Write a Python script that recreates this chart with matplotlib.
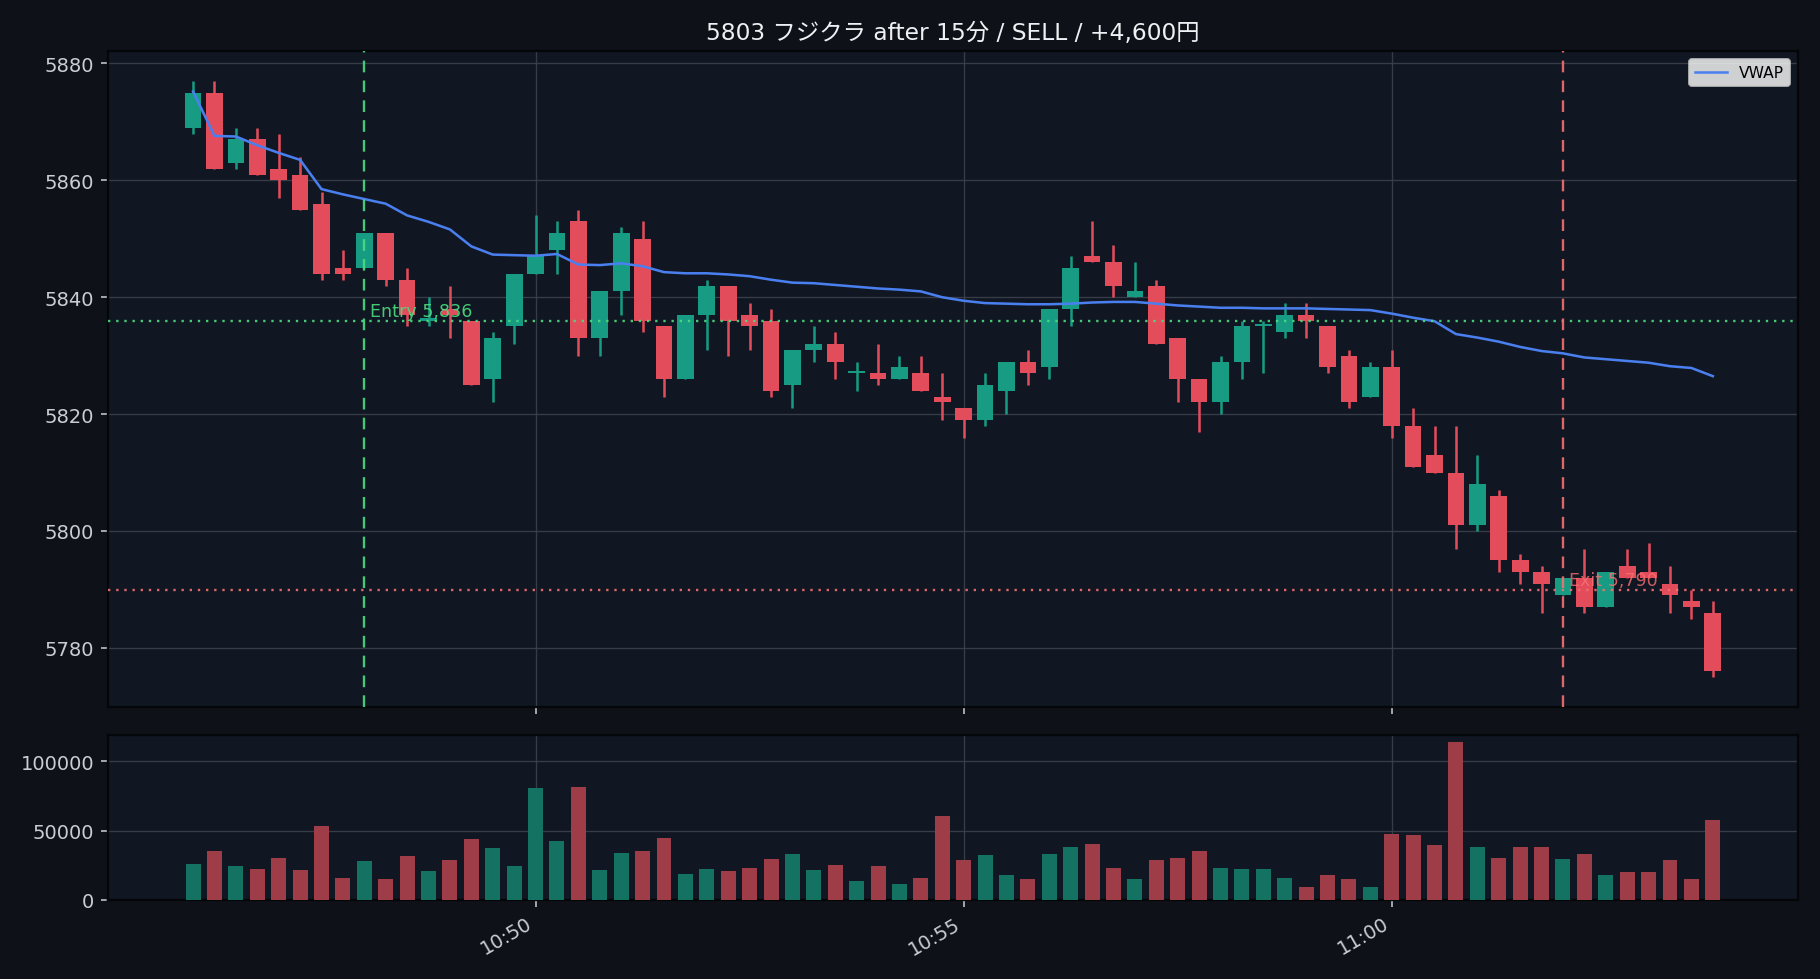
import matplotlib
matplotlib.use("Agg")
import matplotlib.pyplot as plt
import matplotlib.dates as mdates
import numpy as np
import pandas as pd

# ---------------- data ----------------
times = pd.date_range("2024-01-01 10:46:00", periods=72, freq="15s")

opens = [5869, 5875, 5863, 5867, 5862, 5861, 5856, 5845, 5845, 5851,
         5843, 5836, 5838, 5836, 5826, 5835, 5844, 5848, 5853, 5833,
         5841, 5850, 5835, 5826, 5837, 5842, 5837, 5836, 5825, 5831,
         5832, 5827, 5827, 5826, 5827, 5823, 5821, 5819, 5824, 5829,
         5828, 5838, 5847, 5846, 5840, 5842, 5833, 5826, 5822, 5829,
         5835, 5834, 5837, 5835, 5830, 5823, 5828, 5818, 5813, 5810,
         5801, 5806, 5795, 5793, 5789, 5792, 5787, 5794, 5793, 5791,
         5788, 5786]
highs = [5877, 5877, 5869, 5869, 5868, 5864, 5858, 5848, 5851, 5851,
         5845, 5840, 5842, 5836, 5834, 5844, 5854, 5853, 5855, 5841,
         5852, 5853, 5835, 5837, 5843, 5842, 5839, 5838, 5831, 5835,
         5834, 5829, 5832, 5830, 5830, 5827, 5821, 5827, 5829, 5831,
         5838, 5847, 5853, 5849, 5846, 5843, 5833, 5826, 5830, 5836,
         5836, 5839, 5839, 5835, 5831, 5829, 5831, 5821, 5818, 5818,
         5813, 5807, 5796, 5794, 5792, 5797, 5793, 5797, 5798, 5794,
         5790, 5788]
lows = [5868, 5862, 5862, 5861, 5857, 5855, 5843, 5843, 5845, 5842,
        5835, 5835, 5833, 5825, 5822, 5832, 5844, 5844, 5830, 5830,
        5837, 5834, 5823, 5826, 5831, 5830, 5831, 5823, 5821, 5829,
        5826, 5824, 5825, 5826, 5824, 5819, 5816, 5818, 5820, 5825,
        5826, 5835, 5846, 5840, 5840, 5832, 5822, 5817, 5820, 5826,
        5827, 5833, 5833, 5827, 5821, 5823, 5816, 5811, 5810, 5797,
        5800, 5793, 5791, 5786, 5789, 5786, 5787, 5792, 5792, 5786,
        5785, 5775]
closes = [5875, 5862, 5867, 5861, 5860, 5855, 5844, 5844, 5851, 5843,
          5837, 5836, 5837, 5825, 5833, 5844, 5847, 5851, 5833, 5841,
          5851, 5836, 5826, 5837, 5842, 5836, 5835, 5824, 5831, 5832,
          5829, 5827, 5826, 5828, 5824, 5822, 5819, 5825, 5829, 5827,
          5838, 5845, 5846, 5842, 5841, 5832, 5826, 5822, 5829, 5835,
          5835, 5837, 5836, 5828, 5822, 5828, 5818, 5811, 5810, 5801,
          5808, 5795, 5793, 5791, 5792, 5787, 5793, 5792, 5792, 5789,
          5787, 5776]
volumes = [25700, 35100, 24200, 22000, 30000, 21300, 53300, 16200, 27800, 15500,
           31500, 20600, 28600, 43800, 37300, 24200, 80900, 42400, 81600, 21300,
           33700, 35100, 44600, 18400, 22000, 20600, 22800, 29300, 32900, 21300,
           24900, 14000, 24200, 11900, 16200, 60500, 28600, 32200, 17700, 15500,
           32900, 38000, 40200, 22800, 15500, 28600, 30000, 35100, 22800, 22000,
           22000, 16200, 9700, 17700, 14800, 9700, 47500, 46700, 39500, 113600,
           38000, 30000, 38000, 38000, 29300, 32900, 17700, 19900, 19900, 28600,
           14800, 57600]
vwap = [5875.2, 5867.6, 5867.5, 5866.0, 5864.7, 5863.5, 5858.5, 5857.6, 5856.8, 5856.0,
        5854.0, 5852.9, 5851.6, 5848.7, 5847.3, 5847.2, 5847.1, 5847.4, 5845.6, 5845.5,
        5845.8, 5845.3, 5844.3, 5844.1, 5844.1, 5843.9, 5843.6, 5843.0, 5842.5, 5842.4,
        5842.1, 5841.8, 5841.5, 5841.3, 5841.0, 5840.0, 5839.4, 5839.0, 5838.9, 5838.8,
        5838.8, 5838.9, 5839.1, 5839.2, 5839.2, 5838.9, 5838.6, 5838.4, 5838.2, 5838.2,
        5838.1, 5838.1, 5838.1, 5838.0, 5837.9, 5837.8, 5837.2, 5836.5, 5835.9, 5833.7,
        5833.1, 5832.4, 5831.5, 5830.8, 5830.4, 5829.7, 5829.4, 5829.1, 5828.8, 5828.2,
        5827.9, 5826.5]

entry_time = pd.Timestamp("2024-01-01 10:48:00")
exit_time = pd.Timestamp("2024-01-01 11:02:00")
entry_price = 5836
exit_price = 5790
title = "5803 フジクラ after 15分 / SELL / +4,600円"

# ---------------- style ----------------
FIG_BG = "#0e1117"
AX_BG = "#111722"
UP = "#179c83"
DOWN = "#e24c5b"
UP_V = "#147262"
DOWN_V = "#9e3c48"
TXT = "#c9ced6"
GRID = "#3c414b"

plt.rcParams["font.family"] = ["DejaVu Sans", "Noto Sans CJK JP"]

fig = plt.figure(figsize=(13, 6.999), dpi=140, facecolor=FIG_BG)
ax = fig.add_axes([0.0593, 0.2776, 0.9286, 0.6693])
axv = fig.add_axes([0.0593, 0.0806, 0.9286, 0.1689], sharex=ax)

x = mdates.date2num(times.to_pydatetime())
dt = 15.0 / 86400.0
o = np.array(opens, float)
h = np.array(highs, float)
l = np.array(lows, float)
c = np.array(closes, float)
up = c >= o
cols = np.where(up, UP, DOWN)

for a in (ax, axv):
    a.set_facecolor(AX_BG)
    a.grid(True, color=GRID, linewidth=0.7, alpha=0.9)
    a.set_axisbelow(True)
    for s in a.spines.values():
        s.set_color("#04060a")
        s.set_linewidth(1.2)
    a.tick_params(colors=TXT, labelsize=10)

# wicks
ax.vlines(x, l, h, colors=cols, linewidth=1.3, zorder=2)
# bodies
body_bottom = np.minimum(o, c)
body_h = np.maximum(np.abs(c - o), 0.45)
ax.bar(x, body_h, bottom=body_bottom, width=dt * 0.78, color=cols,
       edgecolor=cols, linewidth=0, zorder=3)

ax.plot(x, vwap, color="#4a7ff0", linewidth=1.3, label="VWAP", zorder=4)

ex = mdates.date2num(entry_time.to_pydatetime())
xx = mdates.date2num(exit_time.to_pydatetime())
ax.axvline(ex, color="#4ade80", linestyle=(0, (5, 3.5)), linewidth=1.2, alpha=0.9, zorder=5)
ax.axhline(entry_price, color="#4ade80", linestyle=(0, (1, 2.5)), linewidth=1.2, alpha=0.9, zorder=5)
ax.axvline(xx, color="#f87171", linestyle=(0, (5, 3.5)), linewidth=1.2, alpha=0.9, zorder=5)
ax.axhline(exit_price, color="#f87171", linestyle=(0, (1, 2.5)), linewidth=1.2, alpha=0.9, zorder=5)
ax.text(ex + 4 / 86400, entry_price, f"Entry {entry_price:,}", color="#4ade80",
        fontsize=9, va="bottom", ha="left", alpha=0.9, zorder=6)
ax.text(xx + 4 / 86400, exit_price, f"Exit {exit_price:,}", color="#f87171",
        fontsize=9, va="bottom", ha="left", alpha=0.8, zorder=6)

leg = ax.legend(loc="upper right", fontsize=8, facecolor="white", framealpha=0.8,
                edgecolor="#cccccc")
for t in leg.get_texts():
    t.set_color("black")

ax.set_title(title, color="#eef0f3", fontsize=12,
             family=["DejaVu Sans", "Noto Sans CJK JP"])

# volume
vcols = np.where(up, UP_V, DOWN_V)
axv.bar(x, volumes, width=dt * 0.7, color=vcols, zorder=3)
axv.set_yticks([0, 50000, 100000])
axv.set_yticklabels(["0", "50000", "100000"])

axv.xaxis.set_major_locator(mdates.MinuteLocator(byminute=range(0, 60, 5)))
axv.xaxis.set_major_formatter(mdates.DateFormatter("%H:%M"))
ax.tick_params(axis="x", labelbottom=False)
plt.setp(axv.get_xticklabels(), rotation=30, ha="right")

fig.savefig("out.png", dpi=140, facecolor=FIG_BG)
